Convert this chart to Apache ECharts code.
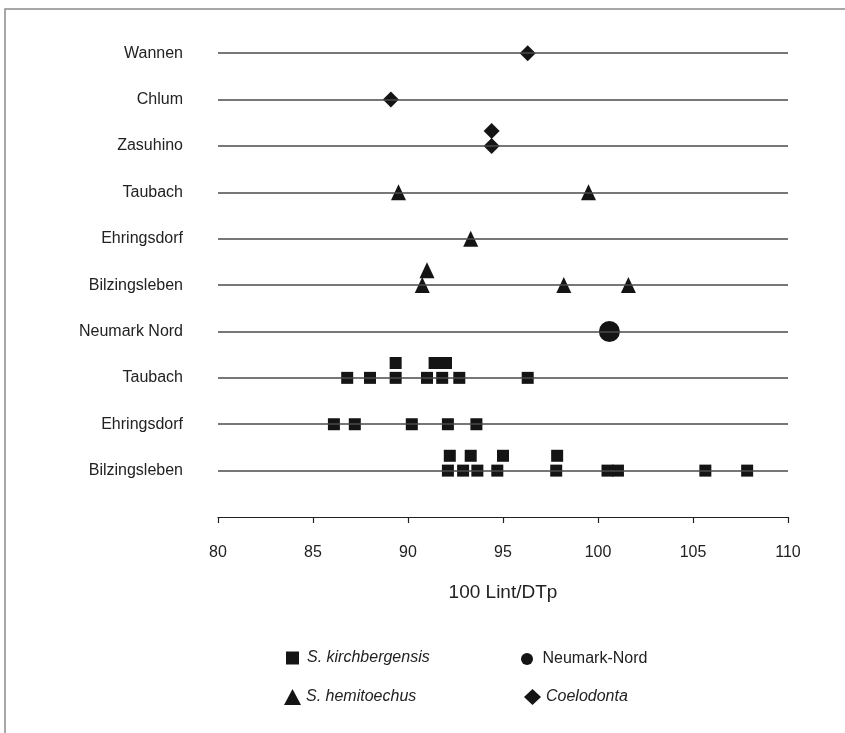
<!DOCTYPE html>
<html>
<head>
<meta charset="utf-8">
<title>100 Lint/DTp</title>
<script src="https://cdn.jsdelivr.net/npm/echarts@6/dist/echarts.min.js"></script>
<style>
  html, body { margin: 0; padding: 0; background: #fff; }
  #chart { width: 845px; height: 733px; }
</style>
</head>
<body>
<div id="chart"></div>
<script>
// Row labels, bottom to top
const rowNames = [
  'Bilzingsleben', 'Ehringsdorf', 'Taubach', 'Neumark Nord',
  'Bilzingsleben', 'Ehringsdorf', 'Taubach',
  'Zasuhino', 'Chlum', 'Wannen'
];

// Each point: [100 Lint/DTp, row index, stack level (0 = on the line, 1 = stacked above)]
const kirchbergensis = [
  // Bilzingsleben
  [92.1, 0, 0], [92.9, 0, 0], [93.65, 0, 0], [94.7, 0, 0], [97.8, 0, 0],
  [100.5, 0, 0], [101.05, 0, 0], [105.65, 0, 0], [107.85, 0, 0],
  [92.2, 0, 1], [93.3, 0, 1], [95.0, 0, 1], [97.85, 0, 1],
  // Ehringsdorf
  [86.1, 1, 0], [87.2, 1, 0], [90.2, 1, 0], [92.1, 1, 0], [93.6, 1, 0],
  // Taubach
  [86.8, 2, 0], [88.0, 2, 0], [89.35, 2, 0], [91.0, 2, 0], [91.8, 2, 0],
  [92.7, 2, 0], [96.3, 2, 0],
  [89.35, 2, 1], [91.4, 2, 1], [92.0, 2, 1]
];

const neumarkNord = [
  [100.6, 3, 0]
];

const hemitoechus = [
  // Bilzingsleben
  [90.75, 4, 0], [91.0, 4, 1], [98.2, 4, 0], [101.6, 4, 0],
  // Ehringsdorf
  [93.3, 5, 0],
  // Taubach
  [89.5, 6, 0], [99.5, 6, 0]
];

const coelodonta = [
  // Zasuhino
  [94.4, 7, 0], [94.4, 7, 1],
  // Chlum
  [89.1, 8, 0],
  // Wannen
  [96.3, 9, 0]
];

const xTicks = { min: 80, max: 110, step: 5 };

// vertical spacing of stacked points, in row units
const STACK_STEP = 0.32;
const toPoints = arr => arr.map(([v, row, level]) => [v, row + level * STACK_STEP]);

const INK = '#141414';
const TEXT = '#222';
const FONT = '"Liberation Sans", Arial, sans-serif';

const chart = echarts.init(document.getElementById('chart'), null, { renderer: 'canvas' });

function legendBlock(name, left, top, w, h, italic, textGap) {
  return {
    data: [name],
    left: left,
    top: top,
    orient: 'vertical',
    itemWidth: w,
    itemHeight: h,
    padding: 0,
    selectedMode: false,
    textStyle: {
      fontFamily: FONT,
      fontSize: 16,
      fontStyle: italic ? 'italic' : 'normal',
      color: TEXT,
      padding: [0, 0, 0, textGap || 0]
    }
  };
}

const marker = { color: INK, opacity: 1 };

const option = {
  backgroundColor: '#fff',
  animation: false,
  textStyle: { fontFamily: FONT },
  grid: { left: 218, right: 57, top: 30, bottom: 216 },
  xAxis: {
    type: 'value',
    min: xTicks.min,
    max: xTicks.max,
    interval: xTicks.step,
    name: '100 Lint/DTp',
    nameLocation: 'middle',
    nameGap: 66,
    nameTextStyle: { fontFamily: FONT, fontSize: 19, color: TEXT },
    axisLine: { show: true, onZero: false, lineStyle: { color: '#222', width: 1.2 } },
    axisTick: { show: true, length: 6, lineStyle: { color: '#222', width: 1.2 } },
    axisLabel: { fontFamily: FONT, fontSize: 16, color: TEXT, margin: 28 },
    splitLine: { show: false }
  },
  yAxis: {
    type: 'value',
    min: -1,
    max: 9.5,
    interval: 1,
    axisLine: { show: false },
    axisTick: { show: false },
    splitLine: { show: false },
    axisLabel: {
      fontFamily: FONT,
      fontSize: 16,
      color: TEXT,
      margin: 35,
      formatter: v => (Number.isInteger(v) && rowNames[v] !== undefined) ? rowNames[v] : ''
    }
  },
  legend: [
    legendBlock('S. kirchbergensis', 286, 650, 13, 13, true, 3),
    legendBlock('S. hemitoechus', 284, 689, 17, 16, true, 0),
    legendBlock('Neumark-Nord', 521, 651, 21, 12, false, 0),
    legendBlock('Coelodonta', 524, 689, 17, 16, true, 0)
  ],
  series: [
    {
      // row guide lines
      type: 'scatter',
      name: 'rows',
      data: [],
      silent: true,
      z: 1,
      markLine: {
        silent: true,
        symbol: 'none',
        label: { show: false },
        lineStyle: { color: '#4a4a4a', width: 1.5, type: 'solid' },
        emphasis: { disabled: true },
        data: rowNames.map((_, i) => ({ yAxis: i }))
      }
    },
    {
      type: 'scatter',
      name: 'S. kirchbergensis',
      symbol: 'rect',
      symbolSize: 12,
      itemStyle: marker,
      z: 3,
      data: toPoints(kirchbergensis)
    },
    {
      type: 'scatter',
      name: 'Neumark-Nord',
      symbol: 'circle',
      symbolSize: 21,
      itemStyle: marker,
      z: 3,
      data: toPoints(neumarkNord)
    },
    {
      type: 'scatter',
      name: 'S. hemitoechus',
      symbol: 'triangle',
      symbolSize: [15, 16],
      itemStyle: marker,
      z: 3,
      data: toPoints(hemitoechus)
    },
    {
      type: 'scatter',
      name: 'Coelodonta',
      symbol: 'diamond',
      symbolSize: [16, 16],
      itemStyle: marker,
      z: 3,
      data: toPoints(coelodonta)
    }
  ],
  graphic: [
    {
      type: 'rect',
      silent: true,
      shape: { x: 5, y: 9, width: 1000, height: 1000 },
      style: { fill: 'none', stroke: '#8a8a8a', lineWidth: 1.5 }
    }
  ]
};

chart.setOption(option);
</script>
</body>
</html>
